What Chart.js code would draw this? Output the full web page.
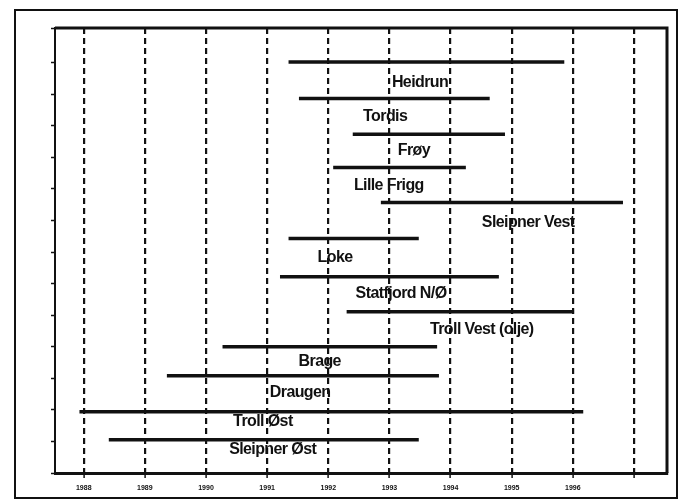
<!DOCTYPE html>
<html>
<head>
<meta charset="utf-8">
<script src="https://cdn.jsdelivr.net/npm/chart.js@4/dist/chart.umd.min.js"></script>
<style>
  html, body { margin: 0; padding: 0; background: #fff; }
  #wrap { width: 681px; height: 501px; position: relative; }
</style>
</head>
<body>
<div id="wrap"><canvas id="c" width="681" height="501"></canvas></div>
<script>
// Gantt-liknende oversikt over feltutbygginger, år på x-aksen

const projects = [
  "Heidrun", "Tordis", "Frøy", "Lille Frigg", "Sleipner Vest", "Loke",
  "Statfjord N/Ø", "Troll Vest (olje)", "Brage", "Draugen", "Troll Øst", "Sleipner Øst"
];
const starts = [1991.35, 1991.52, 1992.40, 1992.08, 1992.86, 1991.35, 1991.21, 1992.30, 1990.27, 1989.36, 1987.93, 1988.41];
const ends   = [1995.86, 1994.64, 1994.89, 1994.25, 1996.82, 1993.48, 1994.79, 1996.02, 1993.78, 1993.81, 1996.17, 1993.48];
const rowY   = [13.02, 11.87, 10.73, 9.68, 8.57, 7.43, 6.22, 5.11, 4.00, 3.08, 1.94, 1.05];
// hvor navnet står (år, rad)
const labelX = [1993.50, 1992.93, 1993.40, 1992.99, 1995.27, 1992.11, 1993.19, 1994.51, 1991.86, 1991.54, 1990.93, 1991.09];
const labelY = [12.38, 11.30, 10.22, 9.11, 7.93, 6.82, 5.68, 4.55, 3.52, 2.54, 1.62, 0.73];
const yearTicks = [1988, 1989, 1990, 1991, 1992, 1993, 1994, 1995, 1996];

const datasets = projects.map((p, i) => ({
  label: p,
  data: [{ x: starts[i], y: rowY[i] }, { x: ends[i], y: rowY[i] }],
  borderColor: "#111",
  borderWidth: 3.5,
  pointRadius: 0,
  fill: false
}));

const framePlugin = {
  id: "frame",
  afterDatasetsDraw(chart) {
    const ctx = chart.ctx;
    const xs = chart.scales.x, ys = chart.scales.y;
    const a = chart.chartArea;
    ctx.save();
    // navn på feltene
    ctx.font = "bold 16px 'Liberation Sans', Arial, sans-serif";
    ctx.letterSpacing = "-0.6px";
    ctx.textAlign = "center";
    ctx.textBaseline = "middle";
    ctx.fillStyle = "#111";
    projects.forEach((p, i) => {
      ctx.fillText(p, xs.getPixelForValue(labelX[i]), ys.getPixelForValue(labelY[i]));
    });
    // topp- og høyrekant av plottet
    ctx.strokeStyle = "#111";
    ctx.lineWidth = 3;
    ctx.beginPath();
    ctx.moveTo(a.left, a.top);
    ctx.lineTo(a.right, a.top);
    ctx.lineTo(a.right, a.bottom);
    ctx.stroke();
    // ytre ramme
    ctx.lineWidth = 2;
    ctx.strokeRect(15, 10, 662, 488);
    ctx.restore();
  }
};

new Chart(document.getElementById("c"), {
  type: "line",
  data: { datasets },
  options: {
    responsive: false,
    animation: false,
    layout: { padding: { left: 51, right: 14, top: 28, bottom: 0 } },
    plugins: { legend: { display: false }, tooltip: { enabled: false } },
    scales: {
      x: {
        type: "linear",
        min: 1987.53,
        max: 1997.54,
        afterFit: s => { s.height = 28; },
        ticks: {
          stepSize: 1,
          includeBounds: false,
          autoSkip: false,
          maxRotation: 0,
          padding: 6,
          color: "#111",
          font: { size: 7, weight: "bold", family: "'Liberation Sans', Arial, sans-serif" },
          callback: v => yearTicks.includes(v) ? String(v) : ""
        },
        grid: {
          color: "#111",
          lineWidth: 2.2,
          tickLength: 5,
          tickColor: "#111",
          tickWidth: 1.5
        },
        border: { display: true, color: "#111", width: 3, dash: [6, 4] }
      },
      y: {
        type: "linear",
        min: 0,
        max: 14.1,
        afterFit: s => { s.width = 4; },
        ticks: { display: false, stepSize: 1 },
        grid: {
          drawOnChartArea: false,
          tickLength: 4,
          tickColor: "#111",
          tickWidth: 1.5
        },
        border: { display: true, color: "#111", width: 2 }
      }
    }
  },
  plugins: [framePlugin]
});
</script>
</body>
</html>
